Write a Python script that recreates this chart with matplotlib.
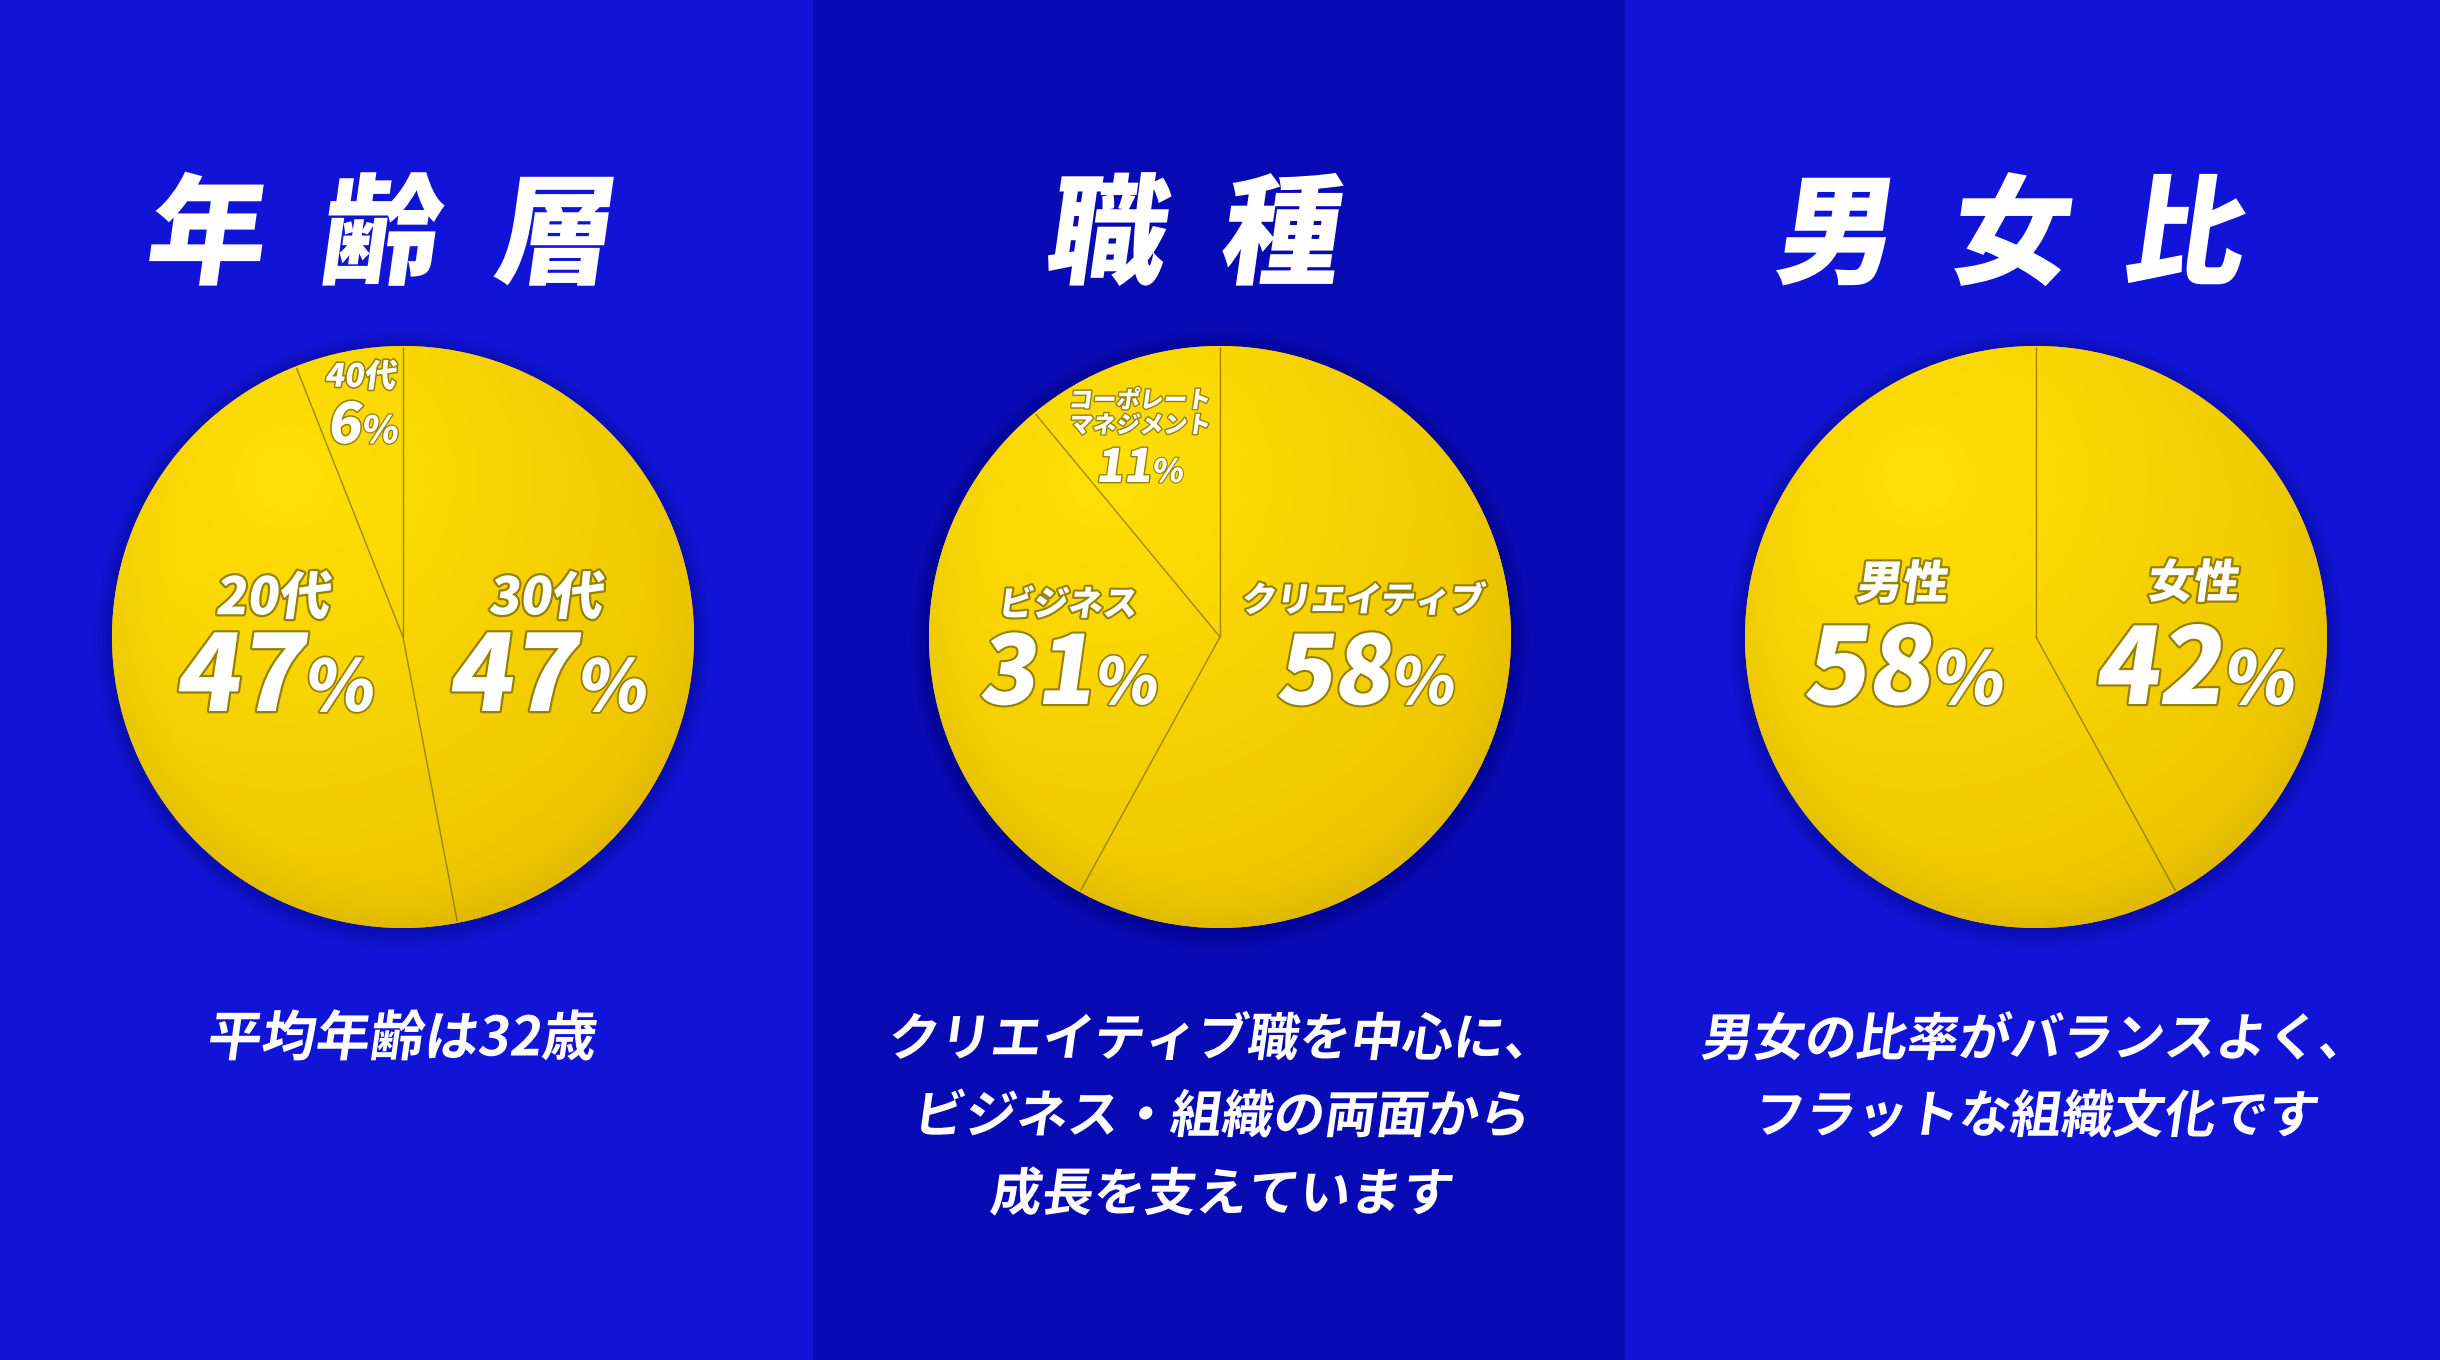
import numpy as np
import matplotlib
matplotlib.use("Agg")
import matplotlib.pyplot as plt
from matplotlib import patheffects as pe
from matplotlib.transforms import Affine2D, offset_copy
from matplotlib.patches import Circle, Rectangle

plt.rcParams['font.family'] = ['Noto Sans CJK JP', 'DejaVu Sans']

# ---------------- data ----------------
titles = ['年  齢  層', '職  種', '男  女  比']

age_labels = ['30代', '20代', '40代']
age_values = [47, 47, 6]

job_labels = ['クリエイティブ', 'ビジネス', 'コーポレート\nマネジメント']
job_values = [58, 31, 11]

gender_labels = ['女性', '男性']
gender_values = [42, 58]

caption_age = ['平均年齢は32歳']
caption_job = ['クリエイティブ職を中心に、', 'ビジネス・組織の両面から', '成長を支えています']
caption_gender = ['男女の比率がバランスよく、', 'フラットな組織文化です']

# ---------------- layout / style ----------------
W, H = 2440, 1360
fig = plt.figure(figsize=(W / 100, H / 100), dpi=100)

panel_edges = [0, 813, 1625, W]
panel_colors = ['#1114D6', '#080AB3', '#1114D6']
pie_centers = [(403, 637), (1220, 637), (2036, 637)]
R = 291
title_pos = [(377, 239), (1190, 239), (2007, 239)]
caption_x = [400, 1220, 2034]
caption_y = [1040, 1117, 1195]

YELLOW = '#F2CC00'
EDGE = '#7F6C00'
OUTLINE = '#857200'
SK = 8


class SkewStroke(pe.Stroke):
    def draw_path(self, renderer, gc, tpath, affine, rgbFace):
        super().draw_path(renderer, gc, tpath,
                          Affine2D().skew_deg(SK, 0) + affine, rgbFace)


class SkewNormal(pe.AbstractPathEffect):
    def draw_path(self, renderer, gc, tpath, affine, rgbFace=None):
        renderer.draw_path(gc, tpath, Affine2D().skew_deg(SK, 0) + affine,
                           rgbFace)


def label_fx(lw):
    return [SkewStroke(linewidth=lw, foreground=OUTLINE, alpha=0.85),
            SkewNormal()]


plain_fx = [SkewNormal()]

# background
bg = fig.add_axes([0, 0, 1, 1], zorder=-10)
bg.set_xlim(0, W)
bg.set_ylim(H, 0)
bg.axis('off')
for i, c in enumerate(panel_colors):
    bg.add_patch(Rectangle((panel_edges[i], 0), panel_edges[i + 1] - panel_edges[i], H,
                           facecolor=c, edgecolor='none'))

# shading image for the pies (styling only)
g = np.linspace(-1, 1, 500)
X, Y = np.meshgrid(g, g[::-1])
d = np.hypot(X + 0.40, Y - 0.55)
light = np.clip(1 - d / 1.8, 0, 1)
rr = np.hypot(X, Y)
rim = np.clip((rr - 0.82) / 0.18, 0, 1) ** 1.5 * (0.5 - 0.5 * Y)
dark_c = np.array([236, 194, 0]) / 255
light_c = np.array([255, 224, 6]) / 255
img = dark_c[None, None, :] * (1 - light[..., None]) + light_c[None, None, :] * light[..., None]
img = img * (1 - 0.06 * rim[..., None])
img = np.clip(img, 0, 1)

S = 2.4 * R


def draw_pie(idx, values):
    cx, cy = pie_centers[idx]
    ax = fig.add_axes([(cx - S / 2) / W, (H - cy - S / 2) / H, S / W, S / H])
    ax.patch.set_visible(False)
    # soft shadow halo
    for k in range(6):
        ax.add_patch(Circle((0, -0.01), 1.0 + 0.01 * (k + 1), facecolor='#000030',
                            edgecolor='none', alpha=0.035, zorder=0))
    wedges, _ = ax.pie(values, startangle=90, counterclock=False, radius=1,
                       colors=[YELLOW] * len(values),
                       wedgeprops=dict(linewidth=0, zorder=1))
    clip = Circle((0, 0), 1.0, transform=ax.transData)
    im = ax.imshow(img, extent=(-1, 1, -1, 1), zorder=2, interpolation='bilinear')
    im.set_clip_path(clip)
    angles = sorted({round(w.theta1 % 360, 6) for w in wedges} |
                    {round(w.theta2 % 360, 6) for w in wedges})
    if len(values) > 1:
        for a in angles:
            t = np.deg2rad(a)
            ax.plot([0, 0.995 * np.cos(t)], [0, 0.995 * np.sin(t)], color=EDGE,
                    lw=1.0, alpha=0.75, zorder=3, solid_capstyle='butt')
    ax.set_xlim(-1.2, 1.2)
    ax.set_ylim(-1.2, 1.2)
    ax.set_aspect('equal')
    ax.axis('off')
    return ax


draw_pie(0, age_values)
draw_pie(1, job_values)
draw_pie(2, gender_values)

# overlay for all text
ov = fig.add_axes([0, 0, 1, 1], zorder=10)
ov.set_xlim(0, W)
ov.set_ylim(H, 0)
ov.axis('off')
ov.patch.set_visible(False)

renderer = fig.canvas.get_renderer()


def name_text(x, y, s, fs, lw):
    ov.text(x, y, s, fontsize=fs, color='white', fontweight='heavy', ha='center',
            va='center', path_effects=label_fx(lw))


def pct_text(x, yb, value, fs_num, fs_pct, lw):
    t1 = ov.text(x, yb, f'{value}', fontsize=fs_num, color='white', fontweight='heavy',
                 ha='left', va='baseline', path_effects=label_fx(lw))
    t2 = ov.text(x, yb, '%', fontsize=fs_pct, color='white', fontweight='heavy',
                 ha='left', va='baseline', path_effects=label_fx(lw * 0.8))
    w1 = t1.get_window_extent(renderer).width
    w2 = t2.get_window_extent(renderer).width
    tot = w1 + w2
    t1.set_transform(offset_copy(ov.transData, fig=fig, x=-tot / 2, y=0, units='dots'))
    t2.set_transform(offset_copy(ov.transData, fig=fig, x=-tot / 2 + w1, y=0, units='dots'))


# label layout: (name x, name y, pct x, pct baseline, name fs, num fs, pct fs, stroke)
age_layout = [(545, 599, 546, 711, 37, 76, 51, 3.2),
              (272, 599, 273, 711, 37, 76, 51, 3.2),
              (360, 377, 362, 443, 23, 40, 27, 2.2)]
job_layout = [(1362, 601, 1364, 704, 25, 68, 46, 3.0),
              (1067, 605, 1067, 704, 25, 68, 46, 3.0),
              (1139, 413, 1139, 482, 17, 33, 23, 2.0)]
gender_layout = [(2192, 584, 2193, 704, 33, 76, 52, 3.2),
                 (1901, 585, 1902, 704, 33, 76, 52, 3.2)]

for labels, values, layout in [(age_labels, age_values, age_layout),
                               (job_labels, job_values, job_layout),
                               (gender_labels, gender_values, gender_layout)]:
    for lab, val, (nx, ny, px, pb, fsn, fsv, fsp, lw) in zip(labels, values, layout):
        if '\n' in lab:
            lines = lab.split('\n')
            for j, ln in enumerate(lines):
                name_text(nx, ny + (j - (len(lines) - 1) / 2) * 25, ln, fsn, lw)
        else:
            name_text(nx, ny, lab, fsn, lw)
        pct_text(px, pb, val, fsv, fsp, lw)

# titles
for t, (x, y) in zip(titles, title_pos):
    ov.text(x, y, t, fontsize=86, color='white', fontweight='heavy', ha='center',
            va='center', path_effects=plain_fx)

# captions
for lines, x in zip([caption_age, caption_job, caption_gender], caption_x):
    for j, ln in enumerate(lines):
        fs = 39 if len(lines) == 1 else 37
        ov.text(x, caption_y[j], ln, fontsize=fs, color='white', fontweight='bold',
                ha='center', va='center', path_effects=plain_fx)

fig.savefig('out.png', dpi=100)
